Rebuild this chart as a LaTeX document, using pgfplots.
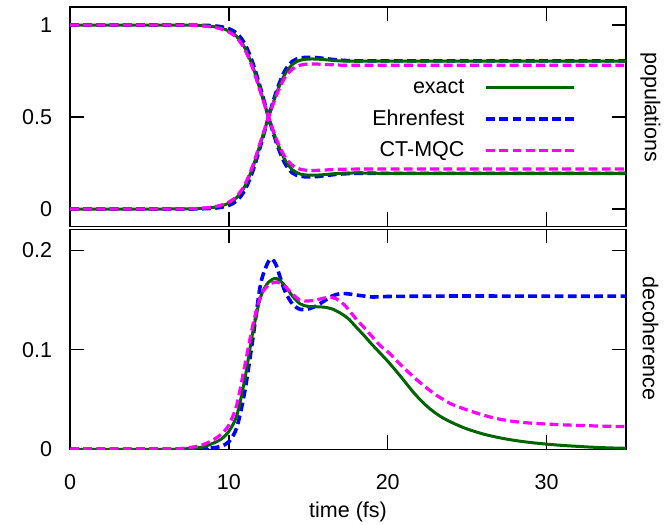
\documentclass[border=0pt]{standalone}
\usepackage{fontspec}
\setmainfont{Liberation Sans}
\usepackage{pgfplots}
\usepackage{pgfplotstable}
\pgfplotsset{compat=1.18}

\definecolor{exactgreen}{RGB}{0,100,0}
\definecolor{ehrblue}{RGB}{0,0,255}
\definecolor{ctmagenta}{RGB}{255,0,255}

% populations: t, P1 (starts at 1), P2 (starts at 0)
\pgfplotstableread{
t     p1      p2
0     1.000   0.000
5     1.000   0.000
7     0.9995  0.0005
8     0.998   0.002
8.5   0.996   0.004
9     0.992   0.008
9.5   0.983   0.017
10    0.968   0.032
10.5  0.937   0.063
11    0.877   0.123
11.5  0.775   0.225
12    0.640   0.360
12.5  0.500   0.500
13    0.370   0.630
13.5  0.272   0.728
14    0.213   0.786
14.5  0.190   0.809
15    0.184   0.815
15.5  0.184   0.815
16    0.187   0.812
16.5  0.191   0.808
17    0.194   0.805
18    0.196   0.803
19    0.195   0.804
20    0.194   0.804
25    0.194   0.804
30    0.194   0.804
35    0.194   0.804
}\popexact

\pgfplotstableread{
t     p1      p2
0     1.000   0.000
7     1.000   0.000
8     0.999   0.001
8.5   0.998   0.002
9     0.996   0.004
9.5   0.991   0.009
10    0.980   0.020
10.5  0.955   0.045
11    0.898   0.102
11.5  0.795   0.205
12    0.655   0.345
12.5  0.500   0.500
13    0.358   0.642
13.5  0.252   0.748
14    0.196   0.803
14.5  0.178   0.821
15    0.175   0.824
15.5  0.176   0.823
16    0.181   0.818
16.5  0.186   0.813
17    0.190   0.809
18    0.194   0.805
20    0.194   0.805
25    0.194   0.805
30    0.194   0.805
35    0.194   0.805
}\popehr

\pgfplotstableread{
t     p1      p2
0     1.000   0.000
7     0.9995  0.0005
8     0.997   0.003
8.5   0.994   0.006
9     0.989   0.011
9.5   0.979   0.021
10    0.962   0.038
10.5  0.930   0.070
11    0.868   0.132
11.5  0.765   0.235
12    0.632   0.368
12.5  0.500   0.500
13    0.378   0.620
13.5  0.288   0.710
14    0.237   0.761
14.5  0.216   0.782
15    0.210   0.788
15.5  0.210   0.788
16    0.212   0.786
17    0.216   0.782
18    0.217   0.781
20    0.217   0.781
25    0.217   0.781
30    0.217   0.781
35    0.217   0.781
}\popct

% decoherence indicator
\pgfplotstableread{
t     d
0     0
6     0
7     0.0003
8     0.0013
8.5   0.003
9     0.006
9.5   0.010
10    0.018
10.5  0.034
11    0.070
11.5  0.117
12    0.153
12.5  0.168
13    0.1715
13.5  0.165
14    0.154
14.5  0.146
15    0.1435
15.5  0.1432
16    0.1428
16.5  0.1410
17    0.1370
17.5  0.1315
18    0.1230
18.5  0.1145
19    0.1055
19.5  0.0970
20    0.0885
20.5  0.0792
21    0.0695
21.5  0.0595
22    0.0505
22.5  0.0428
23    0.0365
23.5  0.0313
24    0.0272
24.5  0.0236
25    0.0204
26    0.0154
27    0.0117
28    0.0089
29    0.0068
30    0.0052
31    0.0039
32    0.0029
33    0.0020
34    0.0014
35    0.0010
}\decexact

\pgfplotstableread{
t     d
0     0
8     0.0003
8.5   0.0008
9     0.0015
9.5   0.003
10    0.0076
10.5  0.022
11    0.058
11.5  0.110
12    0.166
12.5  0.189
12.75 0.1905
13    0.184
13.5  0.160
14    0.146
14.5  0.1405
15    0.141
15.5  0.144
16    0.149
16.5  0.154
17    0.1563
17.5  0.1562
18    0.155
18.5  0.154
19    0.153
20    0.1535
22    0.1538
25    0.154
30    0.1538
35    0.1538
}\decehr

\pgfplotstableread{
t     d
0     0
6     0.0002
7     0.0008
8     0.003
8.5   0.0055
9     0.0093
9.5   0.015
10    0.0244
10.5  0.045
11    0.084
11.5  0.124
12    0.154
12.5  0.165
13    0.168
13.5  0.164
14    0.156
14.5  0.1495
15    0.149
15.5  0.150
16    0.152
16.5  0.1525
17    0.149
17.5  0.141
18    0.131
18.5  0.1225
19    0.1135
19.5  0.1045
20    0.098
20.5  0.090
21    0.082
21.5  0.0745
22    0.0675
22.5  0.061
23    0.055
23.5  0.050
24    0.0455
25    0.0395
26    0.0344
27    0.0304
28    0.0278
29    0.0263
30    0.0254
31    0.0246
32    0.024
33    0.0235
34    0.0231
35    0.0228
}\decct

\pgfplotsset{
  exactst/.style={color=exactgreen, line width=1.5pt, solid},
  ehrst/.style={color=ehrblue, line width=1.8pt, dash pattern=on 4.4pt off 2.2pt},
  ctst/.style={color=ctmagenta, line width=1.6pt, dash pattern=on 4.4pt off 2.2pt},
  panel/.style={
    scale only axis, width=278pt,
    xmin=0, xmax=35, xtick={0,10,20,30},
    tick align=inside, major tick length=7pt,
    axis line style={line width=0.7pt, black},
    tick style={line width=0.7pt, black},
    /pgf/number format/assume math mode=true,
    font=\fontsize{10.75pt}{12pt}\selectfont,
    yticklabel style={anchor=east, inner sep=0pt, xshift=-8.8pt},
    xticklabel style={anchor=center, inner sep=0pt, yshift=-16.2pt},
    every axis plot/.append style={smooth, line join=round},
  },
}

\begin{document}
\begin{tikzpicture}[font=\fontsize{10.75pt}{12pt}\selectfont]
\useasboundingbox (0pt,0pt) rectangle (333.5pt,262pt);

\begin{axis}[panel,
  at={(35pt,148.75pt)}, anchor=south west, height=109.75pt,
  ymin=-0.095, ymax=1.098, ytick={0,0.5,1}, yticklabels={0,0.5,1},
  xticklabels={},
  ylabel={populations},
  ylabel style={at={(axis description cs:1.044,0.543)}, anchor=center, rotate=180},
  legend cell align=right, legend plot pos=right,
  legend style={draw=none, fill=none, inner sep=0pt, outer sep=0pt,
    at={(axis description cs:0.9101,0.6964)}, anchor=north east,
    column sep=10pt, row sep=0pt,
    nodes={inner sep=0pt, text height=10pt, text depth=5.75pt}},
  legend image code/.code={\draw[#1] (0pt,0.9pt) -- (44pt,0.9pt);},
]
\addlegendimage{exactst}
\addlegendentry{exact}
\addlegendimage{ehrst}
\addlegendentry{Ehrenfest}
\addlegendimage{ctst}
\addlegendentry{CT-MQC}

\addplot[ehrst, forget plot] table[x=t, y=p1] {\popehr};
\addplot[ehrst, forget plot] table[x=t, y=p2] {\popehr};
\addplot[exactst, forget plot] table[x=t, y=p1] {\popexact};
\addplot[exactst, forget plot] table[x=t, y=p2] {\popexact};
\addplot[ctst, forget plot] table[x=t, y=p1] {\popct};
\addplot[ctst, forget plot] table[x=t, y=p2] {\popct};
\end{axis}

\begin{axis}[panel,
  at={(35pt,37.35pt)}, anchor=south west, height=110pt,
  ymin=0, ymax=0.221, ytick={0,0.1,0.2}, yticklabels={0,0.1,0.2},
  xticklabels={0,10,20,30},
  xlabel={time (fs)},
  xlabel style={at={(axis description cs:0.5,0)}, anchor=center, yshift=-31.2pt},
  ylabel={decoherence},
  ylabel style={at={(axis description cs:1.044,0.5036)}, anchor=center, rotate=180},
]
\addplot[ehrst] table[x=t, y=d] {\decehr};
\addplot[exactst] table[x=t, y=d] {\decexact};
\addplot[ctst] table[x=t, y=d] {\decct};
\end{axis}
\end{tikzpicture}
\end{document}
